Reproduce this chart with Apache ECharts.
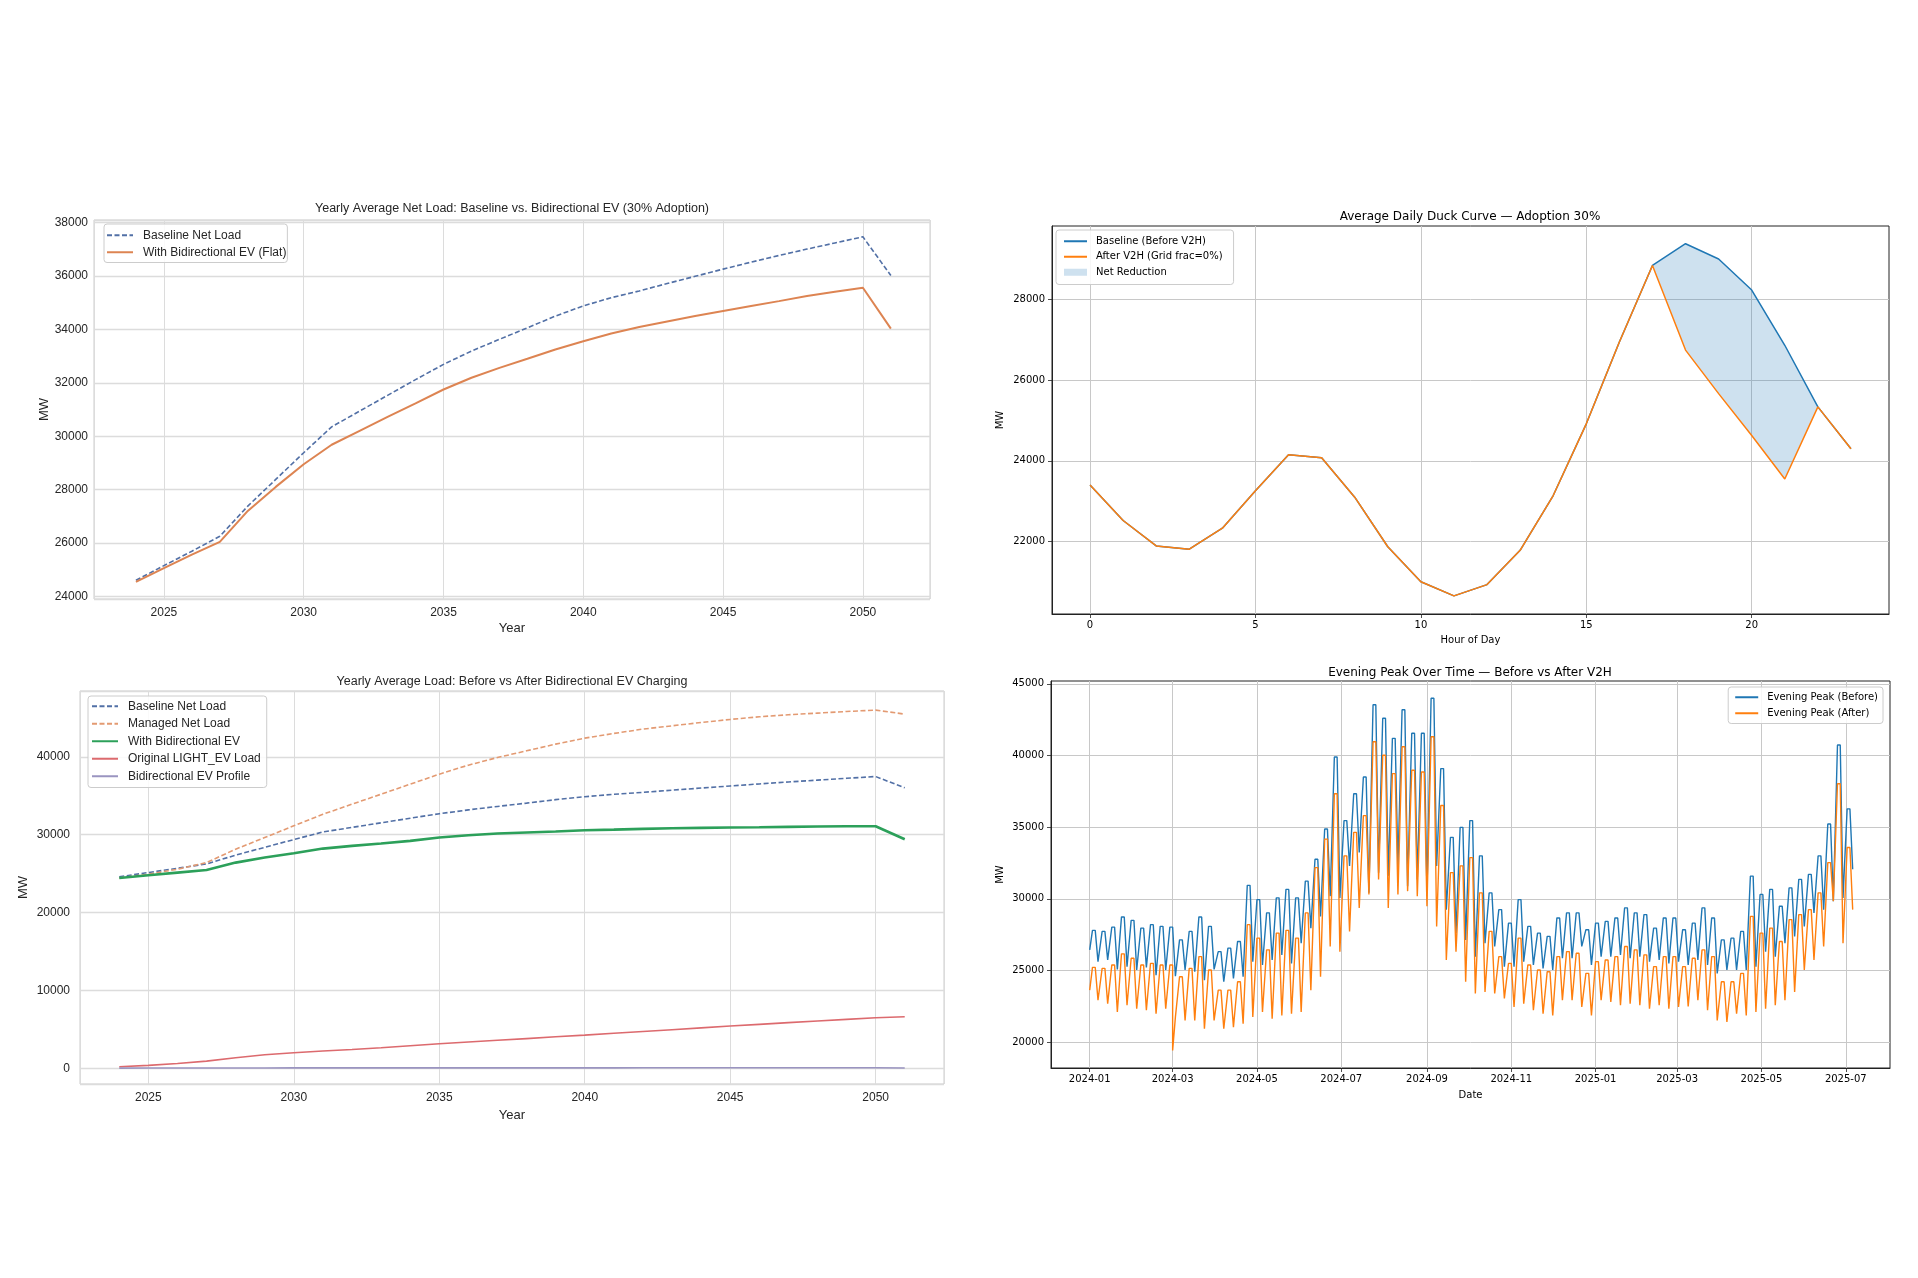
<!DOCTYPE html>
<html>
<head>
<meta charset="utf-8">
<title>Bidirectional EV / V2H load charts</title>
<script src="https://cdn.jsdelivr.net/npm/echarts@6/dist/echarts.min.js"></script>
<style>
  html, body { margin: 0; padding: 0; background: #fff; }
  #chart { width: 1918px; height: 1278px; }
</style>
</head>
<body>
<div id="chart"></div>
<script>
// yearly averages (left two panels)
const years = [2024, 2025, 2026, 2027, 2028, 2029, 2030, 2031, 2032, 2033, 2034, 2035, 2036, 2037,
  2038, 2039, 2040, 2041, 2042, 2043, 2044, 2045, 2046, 2047, 2048, 2049, 2050, 2051]
const baselineNetLoad = [24600, 25150, 25690, 26250, 27380, 28380, 29380, 30350, 30940, 31530, 32120, 32690, 33190, 33630,
  34060, 34500, 34880, 35190, 35440, 35720, 35990, 36260, 36520, 36770, 37010, 37240, 37470, 36020]
const flatBidirEv = [24540, 25060, 25560, 26040, 27200, 28100, 28950, 29680, 30200, 30720, 31230, 31750, 32190, 32560,
  32900, 33250, 33560, 33850, 34090, 34300, 34500, 34690, 34875, 35060, 35250, 35410, 35560, 34030]
const managedNetLoad = [24450, 24930, 25570, 26420, 28140, 29640, 31140, 32630, 33920, 35200, 36490, 37770, 38930, 39910,
  40770, 41630, 42400, 43000, 43560, 43980, 44410, 44800, 45140, 45400, 45610, 45820, 46000, 45480]
const withBidirEv = [24450, 24800, 25140, 25480, 26420, 27070, 27620, 28220, 28570, 28870, 29210, 29640, 29940, 30150,
  30280, 30410, 30580, 30660, 30750, 30840, 30880, 30920, 30960, 31010, 31050, 31090, 31090, 29420]
const lightEvLoad = [210, 390, 640, 940, 1370, 1760, 2010, 2230, 2420, 2660, 2910, 3170, 3390, 3610,
  3830, 4060, 4280, 4510, 4740, 4970, 5200, 5440, 5660, 5880, 6090, 6300, 6510, 6640]
const bidirEvProfile = [40, 45, 50, 55, 60, 62, 65, 66, 68, 70, 71, 72, 73, 74,
  75, 75, 76, 76, 77, 77, 78, 78, 78, 79, 79, 79, 80, 60]
const yearTicks = [2025, 2030, 2035, 2040, 2045, 2050]
const netLoadTicks = [24000, 26000, 28000, 30000, 32000, 34000, 36000, 38000]
const loadTicks = [0, 10000, 20000, 30000, 40000]

// average day (top right)
const hours = [0, 1, 2, 3, 4, 5, 6, 7, 8, 9, 10, 11, 12, 13, 14, 15, 16, 17, 18, 19, 20, 21, 22, 23]
const duckBaseline = [23400, 22520, 21890, 21810, 22330, 23260, 24150, 24080, 23100, 21870, 21000, 20650,
  20930, 21780, 23140, 24920, 26950, 28850, 29390, 29010, 28240, 26870, 25340, 24300]
const duckAfter = [23400, 22520, 21890, 21810, 22330, 23260, 24150, 24080, 23100, 21870, 21000, 20650,
  20930, 21780, 23140, 24920, 26950, 28850, 26750, 25670, 24630, 23550, 25340, 24300]
const hourTicks = [0, 5, 10, 15, 20]
const duckTicks = [22000, 24000, 26000, 28000]

// evening peak (bottom right): weekly highs / lows
const peakStart = '2024-01-01'
const firstBefore = 26440
const firstAfter = 23630
const beforeHigh = [27800, 27730, 28030, 28740, 28500, 27960, 28200, 28080, 28030, 27140,
  27730, 28740, 28080, 26320, 26560, 27030, 30940, 29950, 29020, 30070,
  30660, 30070, 31240, 32760, 34870, 39900, 35460, 37330, 38500, 43540,
  42600, 41200, 43190, 41550, 41550, 44000, 39090, 34290, 34990, 35460,
  33000, 30420, 29250, 28310, 29950, 28080, 27610, 27380, 28670, 29020,
  29020, 27850, 28310, 28430, 28670, 29370, 29020, 28900, 27960, 28670,
  28670, 27850, 28310, 29370, 28670, 27140, 27260, 27730, 31590, 30310,
  30660, 29490, 30770, 31360, 31710, 33000, 35220, 40730, 36280]
const beforeLow = [25620, 25740, 25080, 25270, 25040, 25220, 24680, 25040, 24610, 25040,
  24920, 24330, 25080, 24220, 24450, 24570, 25620, 25390, 25740, 26090,
  25500, 26910, 27960, 28780, 30190, 30070, 32300, 33230, 30420, 31830,
  31590, 32300, 30890, 31360, 30420, 32300, 29250, 27610, 27140, 25970,
  26900, 26680, 25270, 25270, 25620, 25390, 25150, 25040, 25860, 25860,
  26680, 25390, 25970, 25970, 26090, 25860, 25970, 25620, 25740, 25500,
  25620, 25390, 25740, 25390, 24800, 25040, 25040, 25040, 25270, 26320,
  25970, 26910, 27380, 28080, 29020, 29250, 29840, 30070, 32060]
const afterHigh = [25220, 25150, 25390, 26160, 25860, 25390, 25500, 25390, 25390, 24570,
  25150, 25970, 25040, 23630, 23630, 24220, 28200, 27260, 26440, 27610,
  27800, 27260, 29020, 32180, 34170, 37330, 33000, 34640, 35810, 40960,
  40020, 38740, 40610, 38970, 38850, 41310, 36510, 31830, 32300, 32880,
  30420, 27730, 25970, 25500, 27260, 25390, 25040, 24920, 25970, 26320,
  26210, 24800, 25620, 25740, 25970, 26680, 26440, 26090, 25270, 25970,
  25970, 25270, 25860, 26440, 25970, 24220, 24220, 24800, 28780, 27610,
  27960, 27030, 28550, 28900, 29250, 30420, 32530, 38030, 33580]
const afterLow = [22930, 22690, 22110, 22580, 22340, 22230, 21990, 22340, 21750, 21520,
  21520, 20940, 21520, 20940, 21050, 21290, 21760, 22110, 21640, 21870,
  21990, 22110, 23630, 24570, 26680, 26320, 27730, 29370, 30310, 31360,
  29370, 30310, 30540, 30190, 29490, 28080, 25740, 26320, 24220, 23400,
  23510, 23400, 23050, 22460, 22690, 22230, 21990, 21870, 22930, 22930,
  22460, 21870, 22930, 22810, 22580, 22690, 22580, 22340, 22580, 22340,
  22460, 22500, 22930, 22230, 21520, 21410, 21990, 21870, 22110, 22340,
  22580, 22930, 23510, 25040, 25740, 26680, 29840, 26910, 29250]
const afterDips = [['2024-03-01', 19420]]
const monthTicks = ['2024-01-01', '2024-03-01', '2024-05-01', '2024-07-01', '2024-09-01', '2024-11-01',
  '2025-01-01', '2025-03-01', '2025-05-01', '2025-07-01']
const peakTicks = [20000, 25000, 30000, 35000, 40000, 45000]

const DAY = 86400000
const t0 = Date.parse(peakStart)
const monthStamps = monthTicks.map(d => Date.parse(d))

const pairs = (xs, ys) => xs.map((x, i) => [x, ys[i]])

// weekday plateau at the weekly high, weekend dip at the weekly low
function weekly(first, highs, lows, extra) {
  const pts = [[t0, first]]
  highs.forEach((h, i) => {
    pts.push([t0 + (7 * i + 2) * DAY, h])
    pts.push([t0 + (7 * i + 4) * DAY, h])
    pts.push([t0 + (7 * i + 6) * DAY, lows[i]])
  })
  extra.forEach(([d, v]) => pts.push([Date.parse(d), v]))
  return pts.sort((a, b) => a[0] - b[0])
}

const leftFont = "'Liberation Sans', Arial, sans-serif"
const rightFont = "'DejaVu Sans', sans-serif"
const leftInk = '#262626'
const rightInk = '#000000'
const fillColor = 'rgba(31,119,180,0.22)'
const baseBlue = '#5270a6'
const plain = v => String(v)
const ym = v => {
  const d = new Date(v)
  return d.getUTCFullYear() + '-' + String(d.getUTCMonth() + 1).padStart(2, '0')
}

function leftAxis(idx, min, max, step, ticks, name, gap, margin, isX) {
  return {
    type: 'value', gridIndex: idx, min, max, minInterval: step, maxInterval: step,
    name, nameLocation: 'middle', nameGap: gap,
    nameTextStyle: { fontFamily: leftFont, fontSize: 13, color: leftInk },
    axisLine: { show: false, onZero: false }, axisTick: { show: false },
    axisLabel: { customValues: ticks, formatter: plain, margin, fontFamily: leftFont, fontSize: 12, color: leftInk },
    splitLine: { show: true, lineStyle: { color: '#dcdcdc', width: isX ? 1 : 1.3 } }
  }
}

function rightAxis(idx, min, max, step, ticks, name, gap, margin, fmt) {
  return {
    type: 'value', gridIndex: idx, min, max, minInterval: step, maxInterval: step,
    name, nameLocation: 'middle', nameGap: gap,
    nameTextStyle: { fontFamily: rightFont, fontSize: 10, color: rightInk },
    axisLine: { show: true, onZero: false, lineStyle: { color: '#222', width: 1 } },
    axisTick: { show: true, customValues: ticks, length: 4, lineStyle: { color: '#222', width: 0.8 } },
    axisLabel: { customValues: ticks, formatter: fmt, margin, fontFamily: rightFont, fontSize: 10, color: rightInk },
    splitLine: { show: step != null, lineStyle: { color: '#c8c8c8', width: 1 } }
  }
}

function legendBox(pos, names, opts) {
  return Object.assign({
    orient: 'vertical', data: names,
    backgroundColor: 'rgba(255,255,255,0.85)', borderColor: '#cccccc', borderWidth: 1, borderRadius: 3,
    selectedMode: false,
    itemStyle: { opacity: 0 }
  }, pos, opts)
}

const reductionIdx = hours.map((h, i) => i).filter(i =>
  duckBaseline[i] !== duckAfter[i] ||
  (i > 0 && duckBaseline[i - 1] !== duckAfter[i - 1]) ||
  (i < hours.length - 1 && duckBaseline[i + 1] !== duckAfter[i + 1]))

const option = {
  animation: false,
  backgroundColor: '#ffffff',
  title: [
    { text: 'Yearly Average Net Load: Baseline vs. Bidirectional EV (30% Adoption)', left: 512, top: 202, textAlign: 'center', padding: 0,
      textStyle: { fontFamily: leftFont, fontSize: 12.5, fontWeight: 'normal', color: leftInk } },
    { text: 'Average Daily Duck Curve \u2014 Adoption 30%', left: 1470, top: 211, textAlign: 'center', padding: 0,
      textStyle: { fontFamily: rightFont, fontSize: 12, fontWeight: 'normal', color: rightInk } },
    { text: 'Yearly Average Load: Before vs After Bidirectional EV Charging', left: 512, top: 675, textAlign: 'center', padding: 0,
      textStyle: { fontFamily: leftFont, fontSize: 12.5, fontWeight: 'normal', color: leftInk } },
    { text: 'Evening Peak Over Time \u2014 Before vs After V2H', left: 1470, top: 667, textAlign: 'center', padding: 0,
      textStyle: { fontFamily: rightFont, fontSize: 12, fontWeight: 'normal', color: rightInk } }
  ],
  legend: [
    legendBox({ left: 104, top: 224 }, ['Baseline Net Load', 'With Bidirectional EV (Flat)'], {
      padding: [4, 1, 3, 2], itemGap: 2.5, itemWidth: 26, itemHeight: 10,
      textStyle: { fontFamily: leftFont, fontSize: 12, color: leftInk, lineHeight: 14.5, padding: [0, 0, 0, 5] }
    }),
    legendBox({ left: 1056, top: 230 }, ['Baseline (Before V2H)', 'After V2H (Grid frac=0%)',
      { name: 'Net Reduction', icon: 'rect', itemStyle: { opacity: 1 } }], {
      padding: [5, 11, 6, 7], itemGap: 3, itemWidth: 23, itemHeight: 7,
      textStyle: { fontFamily: rightFont, fontSize: 10, color: rightInk, lineHeight: 12.5, padding: [0, 0, 0, 4] }
    }),
    legendBox({ left: 88, top: 696 }, ['Baseline Net Load', 'Managed Net Load', 'With Bidirectional EV', 'Original LIGHT_EV Load', 'Bidirectional EV Profile'], {
      padding: [3, 6, 4, 3], itemGap: 3, itemWidth: 26, itemHeight: 10,
      textStyle: { fontFamily: leftFont, fontSize: 12, color: leftInk, lineHeight: 14.5, padding: [0, 0, 0, 5] }
    }),
    legendBox({ right: 35, top: 687 }, ['Evening Peak (Before)', 'Evening Peak (After)'], {
      padding: [4, 5, 4, 6], itemGap: 3.5, itemWidth: 23, itemHeight: 7,
      textStyle: { fontFamily: rightFont, fontSize: 10, color: rightInk, lineHeight: 12.5, padding: [0, 0, 0, 4] }
    })
  ],
  grid: [
    { left: 94, top: 220, width: 836, height: 379, show: true, borderColor: '#cccccc', borderWidth: 1, outerBoundsMode: 'none' },
    { left: 1052, top: 226, width: 837, height: 388, show: true, borderColor: '#222', borderWidth: 1, outerBoundsMode: 'none' },
    { left: 80, top: 691, width: 864, height: 393, show: true, borderColor: '#cccccc', borderWidth: 1, outerBoundsMode: 'none' },
    { left: 1051, top: 681, width: 839, height: 387, show: true, borderColor: '#222', borderWidth: 1, outerBoundsMode: 'none' }
  ],
  xAxis: [
    leftAxis(0, 2022.5, 2052.4, 5, yearTicks, 'Year', 23, 8, true),
    rightAxis(1, -1.15, 24.15, 5, hourTicks, 'Hour of Day', 21, 6, plain),
    leftAxis(2, 2022.65, 2052.35, 5, yearTicks, 'Year', 25, 8, true),
    rightAxis(3, Date.parse('2023-12-04'), Date.parse('2025-08-02'), null, monthStamps, 'Date', 22, 6, ym)
  ],
  yAxis: [
    leftAxis(0, 23900, 38100, 2000, netLoadTicks, 'MW', 43, 6, false),
    rightAxis(1, 20200, 29830, 2000, duckTicks, 'MW', 47, 7, plain),
    leftAxis(2, -2000, 48450, 10000, loadTicks, 'MW', 50, 10, false),
    rightAxis(3, 18200, 45200, 5000, peakTicks, 'MW', 46, 7, plain)
  ],
  series: [
    // top left
    { name: 'Baseline Net Load', type: 'line', xAxisIndex: 0, yAxisIndex: 0, data: pairs(years, baselineNetLoad),
      symbol: 'none', color: baseBlue, lineStyle: { color: baseBlue, width: 1.6, type: [5, 2.5] } },
    { name: 'With Bidirectional EV (Flat)', type: 'line', xAxisIndex: 0, yAxisIndex: 0, data: pairs(years, flatBidirEv),
      symbol: 'none', color: '#dd8452', lineStyle: { color: '#dd8452', width: 2 } },
    // top right
    { name: 'Net Reduction', type: 'custom', xAxisIndex: 1, yAxisIndex: 1, data: [[0, 24000]], silent: true, z: 1,
      itemStyle: { color: fillColor },
      renderItem: (params, api) => {
        const upper = reductionIdx.map(i => api.coord([hours[i], duckBaseline[i]]))
        const lower = reductionIdx.map(i => api.coord([hours[i], duckAfter[i]])).reverse()
        return { type: 'polygon', shape: { points: upper.concat(lower) }, style: { fill: fillColor } }
      } },
    { name: 'Baseline (Before V2H)', type: 'line', xAxisIndex: 1, yAxisIndex: 1, data: pairs(hours, duckBaseline),
      symbol: 'none', color: '#1f77b4', lineStyle: { color: '#1f77b4', width: 1.5 } },
    { name: 'After V2H (Grid frac=0%)', type: 'line', xAxisIndex: 1, yAxisIndex: 1, data: pairs(hours, duckAfter),
      symbol: 'none', color: '#ff7f0e', lineStyle: { color: '#ff7f0e', width: 1.5 } },
    // bottom left
    { name: 'Baseline Net Load', type: 'line', xAxisIndex: 2, yAxisIndex: 2, data: pairs(years, baselineNetLoad),
      symbol: 'none', color: baseBlue, lineStyle: { color: baseBlue, width: 1.6, type: [5, 2.5] } },
    { name: 'Managed Net Load', type: 'line', xAxisIndex: 2, yAxisIndex: 2, data: pairs(years, managedNetLoad),
      symbol: 'none', color: '#e39a72', lineStyle: { color: '#e39a72', width: 1.6, type: [5, 2.5] } },
    { name: 'With Bidirectional EV', type: 'line', xAxisIndex: 2, yAxisIndex: 2, data: pairs(years, withBidirEv),
      symbol: 'none', color: '#2ca05a', lineStyle: { color: '#2ca05a', width: 2.6 } },
    { name: 'Original LIGHT_EV Load', type: 'line', xAxisIndex: 2, yAxisIndex: 2, data: pairs(years, lightEvLoad),
      symbol: 'none', color: '#dc6a6e', lineStyle: { color: '#dc6a6e', width: 1.6 } },
    { name: 'Bidirectional EV Profile', type: 'line', xAxisIndex: 2, yAxisIndex: 2, data: pairs(years, bidirEvProfile),
      symbol: 'none', color: '#9a94c0', lineStyle: { color: '#9a94c0', width: 1.6 } },
    // bottom right
    { name: 'Evening Peak (Before)', type: 'line', xAxisIndex: 3, yAxisIndex: 3,
      data: weekly(firstBefore, beforeHigh, beforeLow, []),
      symbol: 'none', color: '#1f77b4', lineStyle: { color: '#1f77b4', width: 1.4 },
      markLine: { silent: true, z: 1, symbol: 'none', label: { show: false },
        lineStyle: { color: '#c8c8c8', width: 1, type: 'solid' },
        data: monthStamps.map(t => ({ xAxis: t })) } },
    { name: 'Evening Peak (After)', type: 'line', xAxisIndex: 3, yAxisIndex: 3,
      data: weekly(firstAfter, afterHigh, afterLow, afterDips),
      symbol: 'none', color: '#ff7f0e', lineStyle: { color: '#ff7f0e', width: 1.4 } }
  ]
}

const chart = echarts.init(document.getElementById('chart'), null, { renderer: 'canvas' })
chart.setOption(option)
</script>
</body>
</html>
